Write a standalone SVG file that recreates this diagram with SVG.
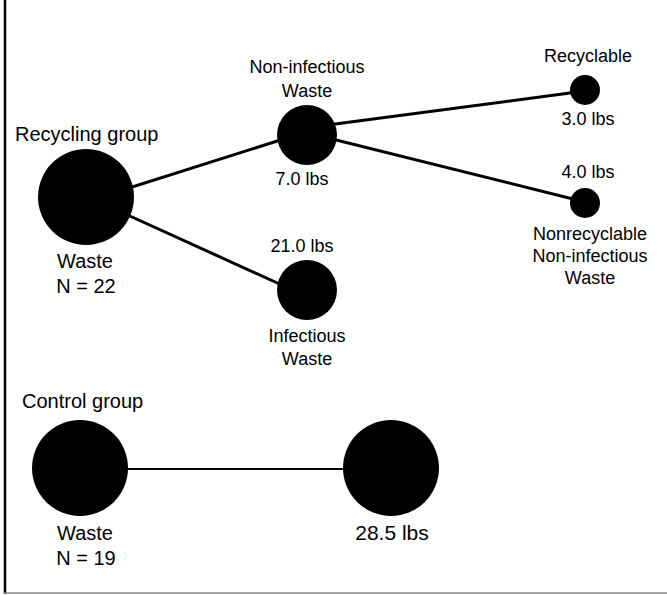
<svg xmlns="http://www.w3.org/2000/svg" width="667" height="595" viewBox="0 0 667 595">
<style>
  text { font-family: "Liberation Sans", Arial, Helvetica, sans-serif; fill: #000; text-anchor: middle; }
  .s { font-size: 18px; }
  .m { font-size: 20px; }
  .l { font-size: 21px; }
  .left { text-anchor: start; }
  circle { fill: #000; }
  .edge { stroke: #000; stroke-width: 3; fill: none; }
  .thin { stroke: #000; stroke-width: 2; fill: none; }
</style>
<rect width="667" height="595" fill="#fff"/>
<g id="frame">
  <line x1="5" y1="0" x2="5" y2="594" stroke="#000" stroke-width="2.5"/>
  <line x1="4" y1="593" x2="667" y2="593" stroke="#888" stroke-width="1.5"/>
</g>
<g id="connectors">
  <line class="edge" x1="110" y1="194" x2="290" y2="137"/>
  <line class="edge" x1="110" y1="207" x2="295" y2="291"/>
  <line class="edge" x1="320" y1="126" x2="585" y2="91"/>
  <line class="edge" x1="320" y1="136" x2="585" y2="202"/>
  <line class="thin" x1="100" y1="469" x2="370" y2="469"/>
</g>
<g id="recycling">
  <circle cx="86" cy="197" r="48"/>
  <text class="m left" x="15" y="141">Recycling group</text>
  <text class="m" x="85" y="268">Waste</text>
  <text class="m" x="86" y="293">N = 22</text>
</g>
<g id="noninfectious">
  <circle cx="307" cy="135" r="30"/>
  <text class="s" x="307" y="73">Non-infectious</text>
  <text class="s" x="307" y="97">Waste</text>
  <text class="s" x="302" y="185">7.0 lbs</text>
</g>
<g id="infectious">
  <circle cx="307" cy="290" r="30"/>
  <text class="s" x="302" y="252">21.0 lbs</text>
  <text class="s" x="307" y="342">Infectious</text>
  <text class="s" x="307" y="365">Waste</text>
</g>
<g id="recyclable">
  <circle cx="585" cy="90" r="15"/>
  <text class="s" x="588" y="62">Recyclable</text>
  <text class="s" x="588" y="125">3.0 lbs</text>
</g>
<g id="nonrecyclable">
  <circle cx="585" cy="203" r="15"/>
  <text class="s" x="588" y="178">4.0 lbs</text>
  <text class="s" x="590" y="240">Nonrecyclable</text>
  <text class="s" x="590" y="262">Non-infectious</text>
  <text class="s" x="590" y="284">Waste</text>
</g>
<g id="control">
  <circle cx="80" cy="468" r="48"/>
  <text class="m left" x="22" y="408">Control group</text>
  <text class="m" x="85" y="540">Waste</text>
  <text class="m" x="86" y="565">N = 19</text>
</g>
<g id="control-waste">
  <circle cx="391" cy="468" r="48"/>
  <text class="l" x="392" y="540">28.5 lbs</text>
</g>
</svg>
